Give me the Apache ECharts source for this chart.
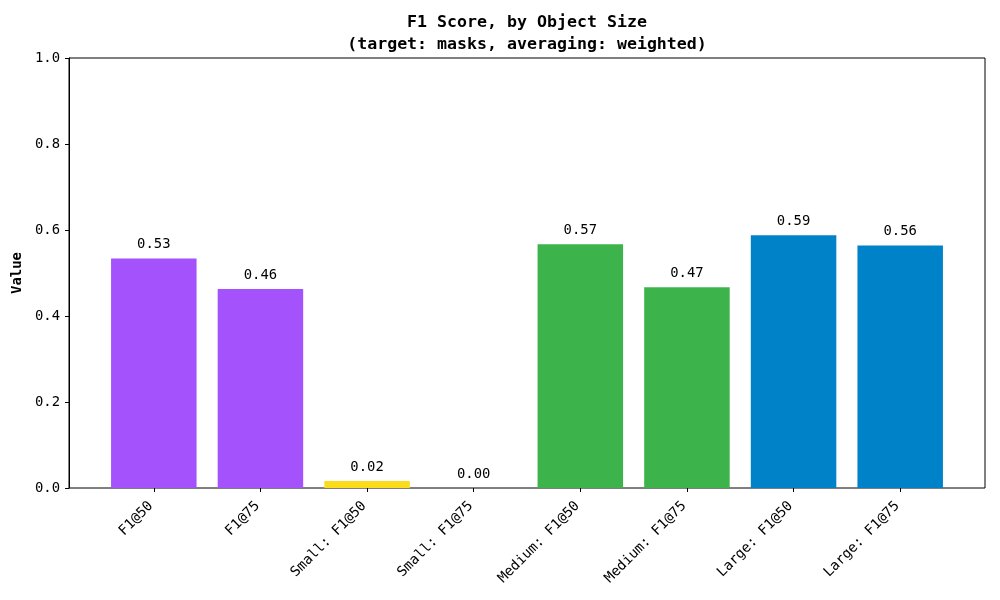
<!DOCTYPE html>
<html><head><meta charset="utf-8">
<script src="https://cdn.jsdelivr.net/npm/echarts@6/dist/echarts.min.js"></script>
<style>html,body{margin:0;padding:0;background:#fff}#c{width:1000px;height:600px}</style>
</head><body><div id="c"></div>
<script>
const categories = ['F1@50','F1@75','Small: F1@50','Small: F1@75','Medium: F1@50','Medium: F1@75','Large: F1@50','Large: F1@75'];
const values = [0.534, 0.463, 0.016, 0.0, 0.567, 0.467, 0.588, 0.564];
const colors = ['#a352fc','#a352fc','#fbdc1a','#fbdc1a','#3cb44b','#3cb44b','#0082c8','#0082c8'];
const yTicks = [0, 0.2, 0.4, 0.6, 0.8, 1.0];
const font = 'DejaVu Sans Mono';

const chart = echarts.init(document.getElementById('c'));
chart.setOption({
  animation: false,
  title: {
    text: 'F1 Score, by Object Size\n(target: masks, averaging: weighted)',
    left: 527, top: 7, textAlign: 'center',
    textStyle: {fontFamily: font, fontWeight: 'bold', fontSize: 16.6, lineHeight: 22, color: '#000'}
  },
  grid: [
    {left: 69, right: 15, top: 58, bottom: 112, show: true, borderColor: '#000', borderWidth: 1, backgroundColor: 'transparent'},
    {left: 100.5, right: 46.5, top: 58, bottom: 112}
  ],
  xAxis: [
    {gridIndex: 0, type: 'value', show: false, min: 0, max: 1},
    {gridIndex: 1, type: 'category', data: categories,
     axisLine: {show: false},
     axisTick: {show: true, alignWithLabel: true, length: 4, lineStyle: {color: '#000'}},
     axisLabel: {rotate: 45, fontFamily: font, fontSize: 13.9, color: '#000', margin: 13, interval: 0,
       padding: [0, 4, 0, 0]}}
  ],
  yAxis: [
    {gridIndex: 0, type: 'value', min: 0, max: 1, interval: 0.2,
     name: 'Value', nameLocation: 'middle', nameGap: 42, nameRotate: 90,
     nameTextStyle: {fontFamily: font, fontWeight: 'bold', fontSize: 13.9, color: '#000'},
     axisLine: {show: true, lineStyle: {color: '#000'}},
     axisTick: {show: true, length: 4, lineStyle: {color: '#000'}},
     splitLine: {show: false},
     axisLabel: {fontFamily: font, fontSize: 13.9, color: '#000', margin: 9,
       formatter: v => yTicks.includes(Math.round(v*10)/10) ? v.toFixed(1) : ''}},
    {gridIndex: 1, type: 'value', min: 0, max: 1, show: false}
  ],
  series: [{
    type: 'bar', xAxisIndex: 1, yAxisIndex: 1,
    barWidth: 85.5,
    data: values.map((v, i) => ({value: v, itemStyle: {color: colors[i]}})),
    label: {show: true, position: 'top', distance: 7, fontFamily: font, fontSize: 13.9, color: '#000',
      formatter: p => p.value.toFixed(2)}
  }]
});
chart.setOption({title: {left: 522}});
</script></body></html>
